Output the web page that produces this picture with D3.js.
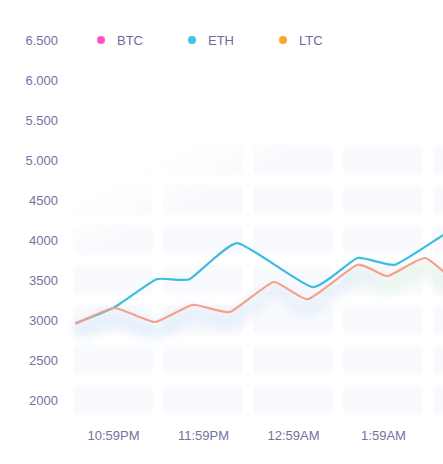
<!DOCTYPE html>
<html>
<head>
<meta charset="utf-8">
<script src="https://cdnjs.cloudflare.com/ajax/libs/d3/7.8.5/d3.min.js"></script>
<style>
  html, body { margin: 0; padding: 0; background: #fff; }
  #chart { width: 443px; height: 464px; overflow: hidden; }
  text { font-family: "Liberation Sans", Arial, sans-serif; }
</style>
</head>
<body>
<div id="chart"></div>
<script>
// series names and legend colours
const seriesNames = ['BTC', 'ETH', 'LTC'];
const legendColors = ['#ff52c3', '#41c1e6', '#f7a530'];

// ETH
const ethTimes = ['22:34', '23:00', '23:28', '23:50', '00:22', '01:12', '01:42', '02:07', '02:39', '03:00'];
const ethValues = [2960, 3160, 3510, 3510, 3960, 3410, 3775, 3690, 4060, 4300];

// LTC
const ltcTimes = ['22:34', '23:00', '23:27', '23:52', '00:17', '00:46', '01:09', '01:42', '02:02', '02:27', '02:50'];
const ltcValues = [2950, 3150, 2975, 3190, 3100, 3475, 3260, 3690, 3550, 3775, 3420];

// axis ticks
const yTicks = [6500, 6000, 5500, 5000, 4500, 4000, 3500, 3000, 2500, 2000];
const xTicks = ['22:59', '23:59', '00:59', '01:59'];
const tileColumns = ['22:59', '23:59', '00:59', '01:59', '02:59'];

// "22:59" -> Date, hours before noon belong to the next day
function parseTime(s) {
    const [h, m] = s.split(':').map(Number);
    return new Date(2018, 0, h < 12 ? 2 : 1, h, m);
}

const W = 443, H = 464;
const svg = d3.select('#chart').append('svg')
    .attr('width', W)
    .attr('height', H);

const x = d3.scaleTime()
    .domain([parseTime('22:59'), parseTime('01:59')])
    .range([113, 383]);

const y = d3.scaleLinear()
    .domain([2000, 6500])
    .range([400, 40]);

const defs = svg.append('defs');

// fade of the background tiles towards the top-left
const fade = defs.append('linearGradient')
    .attr('id', 'tile-fade')
    .attr('gradientUnits', 'userSpaceOnUse')
    .attr('x1', 0).attr('y1', 236)
    .attr('x2', 26).attr('y2', 288);
fade.append('stop').attr('offset', '0%').attr('stop-color', '#fff').attr('stop-opacity', 0);
fade.append('stop').attr('offset', '100%').attr('stop-color', '#fff').attr('stop-opacity', 1);

defs.append('mask')
    .attr('id', 'tile-mask')
    .attr('maskUnits', 'userSpaceOnUse')
    .attr('x', 0).attr('y', 0).attr('width', W).attr('height', H)
    .append('rect')
    .attr('width', W).attr('height', H)
    .attr('fill', 'url(#tile-fade)');

// soft glow under the lines
defs.append('filter')
    .attr('id', 'glow')
    .attr('x', '-20%').attr('y', '-60%')
    .attr('width', '140%').attr('height', '220%')
    .append('feGaussianBlur')
    .attr('stdDeviation', 6);

const glowGrad = defs.append('linearGradient')
    .attr('id', 'glow-grad')
    .attr('gradientUnits', 'userSpaceOnUse')
    .attr('x1', 73).attr('x2', 443).attr('y1', 0).attr('y2', 0);
glowGrad.append('stop').attr('offset', '0%').attr('stop-color', '#d6e7f9');
glowGrad.append('stop').attr('offset', '72%').attr('stop-color', '#dae8f7');
glowGrad.append('stop').attr('offset', '86%').attr('stop-color', '#e0f2e3');
glowGrad.append('stop').attr('offset', '100%').attr('stop-color', '#e0f2e3');

// background tiles
const tileRows = yTicks.filter(v => v <= 5000);
const tiles = svg.append('g').attr('mask', 'url(#tile-mask)');
tileRows.forEach(v => {
    tileColumns.forEach(t => {
        tiles.append('rect')
            .attr('x', x(parseTime(t)) - 40)
            .attr('y', y(v) - 15)
            .attr('width', 80)
            .attr('height', 30)
            .attr('rx', 6)
            .attr('fill', '#f9fafd');
    });
});

// y axis
const yFormat = v => v >= 5000 ? d3.format(',')(v).replace(',', '.') : String(v);
const yAxis = svg.append('g')
    .attr('transform', 'translate(58,0)')
    .call(d3.axisLeft(y).tickValues(yTicks).tickSize(0).tickPadding(0).tickFormat(yFormat));
yAxis.select('.domain').remove();
yAxis.selectAll('text')
    .attr('fill', '#7373a3')
    .style('font-size', '13px');

// x axis
const xAxis = svg.append('g')
    .attr('transform', 'translate(0,428)')
    .call(d3.axisBottom(x)
        .tickValues(xTicks.map(parseTime))
        .tickSize(0)
        .tickFormat(d3.timeFormat('%-I:%M%p')));
xAxis.select('.domain').remove();
xAxis.selectAll('text')
    .attr('fill', '#7373a3')
    .style('font-size', '13px');

// lines
const ethData = ethTimes.map((t, i) => ({ t: parseTime(t), v: ethValues[i] }));
const ltcData = ltcTimes.map((t, i) => ({ t: parseTime(t), v: ltcValues[i] }));

const line = d3.line()
    .x(d => x(d.t))
    .y(d => y(d.v))
    .curve(d3.curveCardinal.tension(0.55));

svg.append('path')
    .datum(ltcData)
    .attr('d', line)
    .attr('transform', 'translate(0,9)')
    .attr('fill', 'none')
    .attr('stroke', 'url(#glow-grad)')
    .attr('stroke-width', 16)
    .attr('opacity', 0.6)
    .attr('filter', 'url(#glow)');

svg.append('path')
    .datum(ethData)
    .attr('d', line)
    .attr('fill', 'none')
    .attr('stroke', '#3dbce2')
    .attr('stroke-width', 2.2)
    .attr('stroke-linejoin', 'round');

svg.append('path')
    .datum(ltcData)
    .attr('d', line)
    .attr('fill', 'none')
    .attr('stroke', '#f6a088')
    .attr('stroke-width', 2.2)
    .attr('stroke-linejoin', 'round');

// legend
const legend = svg.append('g');
seriesNames.forEach((name, i) => {
    const g = legend.append('g').attr('transform', `translate(${101 + i * 91},40)`);
    g.append('circle').attr('r', 4).attr('fill', legendColors[i]);
    g.append('text')
        .attr('x', 16)
        .attr('dy', '0.35em')
        .attr('fill', '#6c6c9c')
        .style('font-size', '13px')
        .text(name);
});
</script>
</body>
</html>
